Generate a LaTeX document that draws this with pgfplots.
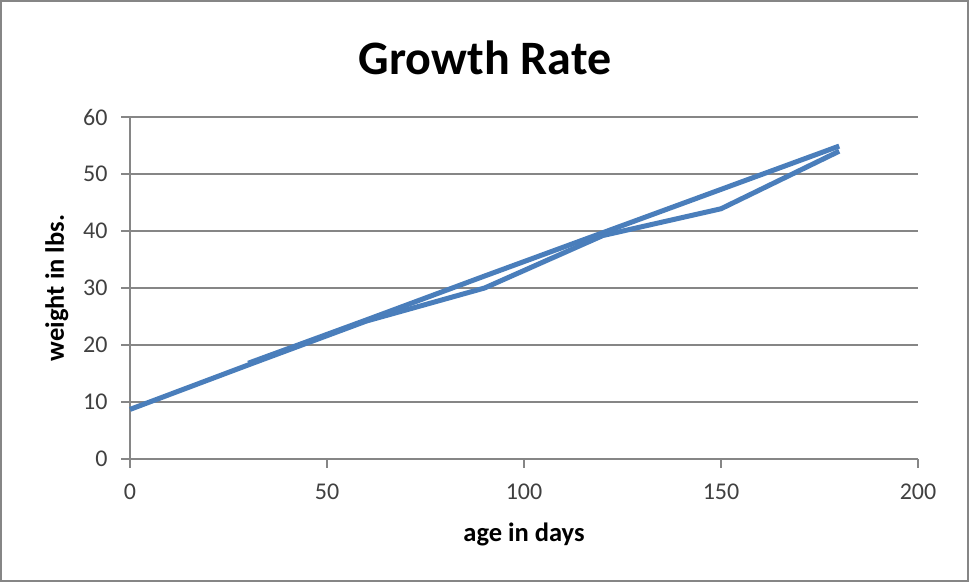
\documentclass[border=0pt]{standalone}
\usepackage{pgfplots}
\pgfplotsset{compat=1.18}
\usepackage{fontspec}
\setmainfont{Carlito}
\definecolor{xlblue}{HTML}{4A7EBB}
\definecolor{xlgrid}{HTML}{868686}
\definecolor{xltext}{HTML}{404040}

\begin{document}
\begin{tikzpicture}[x=1bp,y=1bp]
  \draw[xlgrid, line width=2bp] (1,1) rectangle (968,581);
  \node[font=\fontsize{48bp}{54bp}\selectfont\bfseries] at (485,524) {Growth Rate};
  \begin{axis}[
      at={(130bp,123bp)}, anchor=south west,
      scale only axis,
      width=788bp, height=342bp,
      xmin=0, xmax=200, ymin=0, ymax=60,
      xtick={0,50,...,200}, ytick={0,10,...,60},
      axis x line*=bottom, axis y line*=left,
      axis line style={xlgrid, line width=1.3bp, -},
      ymajorgrids,
      major grid style={xlgrid, line width=1.3bp},
      tick style={xlgrid, line width=1.3bp},
      tick align=outside,
      major tick length=9bp,
      ticklabel style={font=\fontsize{24bp}{28bp}\selectfont, text=xltext},
      xticklabel style={yshift=-12bp},
      yticklabel style={xshift=-10bp},
      /pgf/number format/assume math mode=true,
      xlabel={\bfseries age in days},
      ylabel={\bfseries weight in lbs.},
      label style={font=\fontsize{26.5bp}{30bp}\selectfont},
      xlabel style={yshift=-17bp},
      ylabel style={yshift=8bp},
      clip=false,
    ]
    \addplot[xlblue, line width=5bp, line join=round] coordinates {
      (0,8.7) (30,16.5) (60,24.2) (90,30.0) (120,39.2) (150,43.9) (180,54.0)
    };
    \addplot[xlblue, line width=5bp, line join=round] coordinates {
      (30,16.8) (60,24.4) (90,32.1) (120,39.7) (150,47.3) (180,54.9)
    };
  \end{axis}
\end{tikzpicture}
\end{document}
